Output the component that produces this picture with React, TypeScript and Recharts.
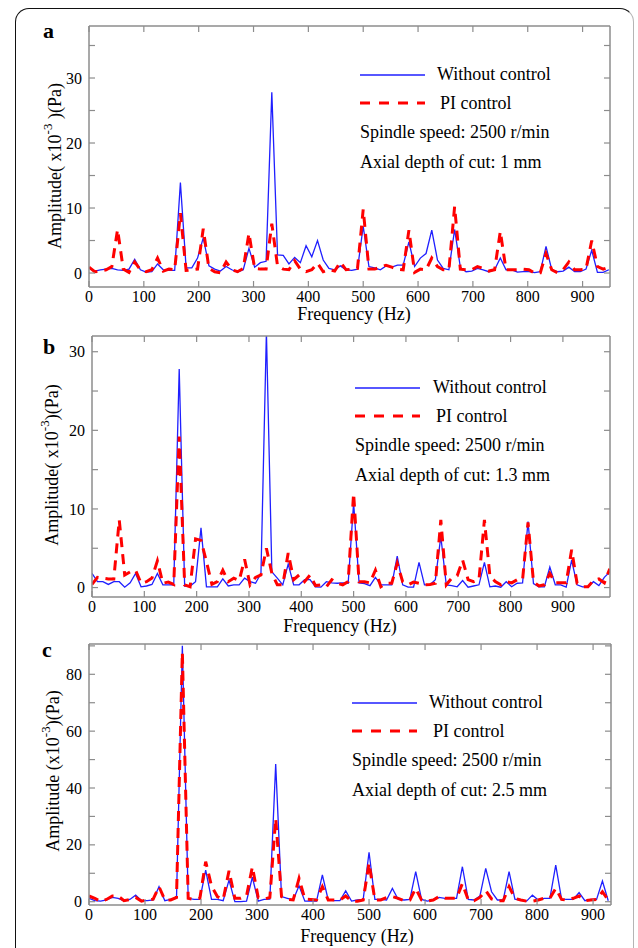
import React from "react";
import { LineChart, Line, XAxis, YAxis } from "recharts";

// frequency bins (Hz), 10.42 Hz resolution
const FREQ = [
  0, 10.42, 20.83, 31.25, 41.67, 52.08, 62.5, 72.92, 83.33, 93.75, 104.17, 114.58,
  125, 135.42, 145.83, 156.25, 166.67, 177.08, 187.5, 197.92, 208.33, 218.75, 229.17, 239.58,
  250, 260.42, 270.83, 281.25, 291.67, 302.08, 312.5, 322.92, 333.33, 343.75, 354.17, 364.58,
  375, 385.42, 395.83, 406.25, 416.67, 427.08, 437.5, 447.92, 458.33, 468.75, 479.17, 489.58,
  500, 510.42, 520.83, 531.25, 541.67, 552.08, 562.5, 572.92, 583.33, 593.75, 604.17, 614.58,
  625, 635.42, 645.83, 656.25, 666.67, 677.08, 687.5, 697.92, 708.33, 718.75, 729.17, 739.58,
  750, 760.42, 770.83, 781.25, 791.67, 802.08, 812.5, 822.92, 833.33, 843.75, 854.17, 864.58,
  875, 885.42, 895.83, 906.25, 916.67, 927.08, 937.5, 947.92, 958.33, 968.75, 979.17, 989.58,
];

// (a) 1 mm
const A_WITHOUT = [
  0.8, 0.3, 0.5, 0.6, 0.7, 0.5, 0.4, 0.6, 2.1, 0.5, 0.15, 0.2,
  1.4, 0.5, 0.4, 0.4, 13.9, 0.8, 0.8, 2.3, 5.4, 1.1, 0.6, 0.3,
  1.0, 0.5, 0.15, 0.5, 3.8, 0.9, 1.6, 1.8, 27.8, 2.8, 2.7, 1.4,
  2.4, 1.6, 4.2, 2.5, 5.0, 2.0, 0.7, 0.5, 1.1, 0.5, 0.4, 0.6,
  7.2, 1.0, 0.8, 0.5, 1.1, 0.9, 1.2, 1.2, 4.8, 1.0, 2.3, 3.0,
  6.6, 2.0, 0.7, 0.5, 6.7, 0.9, 0.2, 0.3, 0.7, 0.5, 0.2, 0.5,
  2.3, 0.5, 0.5, 0.15, 0.2, 0.2, 0.05, 0.2, 4.1, 0.5, 0.2, 0.3,
  0.9, 0.2, 0.2, 0.6, 3.5, 0.1, 0.1, 0.5,
];
const A_PI = [
  0.9, 0.2, 0.3, 0.5, 1.0, 6.7, 0.6, 0.1, 1.7, 0.5, 0.2, 0.5,
  2.3, 0.3, 0.6, 0.5, 9.2, 0.4, 0.5, 0.6, 6.8, 0.7, 0.2, 0.05,
  1.7, 0.5, 0.2, 0.7, 6.1, 0.7, 0.6, 0.6, 7.6, 1.1, 0.6, 0.5,
  1.9, 0.6, 0.2, 0.5, 1.5, 0.2, 0.5, 0.3, 1.7, 0.5, 0.6, 0.7,
  9.8, 0.6, 0.6, 0.9, 1.2, 0.9, 0.6, 0.5, 6.6, 0.1, 0.6, 0.5,
  2.3, 1.0, 0.5, 0.5, 10.2, 0.6, 0.5, 0.5, 1.0, 0.7, 0.3, 0.5,
  6.4, 0.5, 0.5, 0.5, 0.6, 0.5, 0.0, 0.05, 3.0, 0.5, 0.05, 0.5,
  1.7, 0.5, 0.5, 0.6, 5.0, 1.0, 0.6, 0.9,
];

// (b) 1.3 mm
const B_WITHOUT = [
  1.8, 0.75, 0.75, 0.4, 0.75, 0.75, 0.05, 0.6, 1.8, 0.1, 0.2, 0.4,
  1.8, 0.35, 0.35, 0.35, 27.8, 0.2, 0.2, 0.75, 7.6, 0.1, 0.1, 0.1,
  1.1, 0.2, 0.35, 0.35, 1.2, 0.75, 0.55, 1.8, 32.5, 2.0, 1.2, 0.35,
  3.0, 0.35, 0.35, 1.0, 1.0, 0.1, 0.05, 0.75, 0.6, 0.55, 0.6, 0.55,
  10.8, 0.6, 0.5, 0.25, 1.3, 0.35, 0.35, 0.35, 4.0, 0.35, 0.05, 0.05,
  3.2, 0.35, 0.35, 1.0, 6.5, 0.35, 0.25, 0.1, 0.9, 0.05, 0.2, 0.35,
  3.2, 0.1, 0.2, 0.05, 0.75, 0.1, 0.55, 0.6, 8.4, 0.5, 0.1, 0.1,
  2.6, 0.35, 0.35, 0.05, 3.5, 0.35, 0.1, 0.1, 0.75, 0.25, 1.3, 2.0,
];
const B_PI = [
  0.4, 1.3, 1.2, 1.1, 1.1, 8.6, 1.6, 2.0, 2.2, 0.55, 0.75, 1.2,
  3.4, 0.55, 0.7, 0.4, 19.2, 0.35, 0.1, 6.2, 6.0, 3.3, 0.4, 0.75,
  2.2, 0.75, 1.2, 0.9, 3.6, 0.35, 1.3, 1.6, 5.0, 1.8, 0.35, 0.35,
  4.4, 1.0, 1.6, 0.75, 1.6, 0.25, 0.35, 0.1, 1.0, 0.55, 0.35, 0.75,
  12.0, 0.75, 0.75, 0.6, 2.2, 0.1, 0.55, 0.55, 3.1, 0.75, 0.35, 0.7,
  0.55, 0.35, 0.4, 0.55, 8.6, 0.35, 1.2, 1.5, 3.5, 1.0, 0.75, 1.0,
  8.6, 1.5, 0.75, 0.35, 0.75, 0.6, 1.0, 1.0, 8.3, 0.75, 0.2, 0.35,
  1.8, 0.6, 0.6, 0.6, 4.8, 0.55, 0.1, 0.1, 0.9, 1.1, 0.6, 2.4,
];

// (c) 2.5 mm
const C_WITHOUT = [
  1.2, 0.35, 0.2, 0.6, 1.5, 1.2, 0.35, 0.8, 2.3, 0.35, 0.35, 0.6,
  5.3, 0.35, 0.8, 1.2, 90, 1.2, 0.8, 0.8, 11.1, 0.8, 0.8, 0.35,
  7.6, 0, 0, 0.2, 8.6, 0.2, 0.8, 0.9, 48.4, 1.8, 1.2, 0.6,
  5.6, 0.2, 0.2, 0.2, 9.4, 0.6, 0.35, 0.35, 3.8, 0.2, 0.6, 0.8,
  17.4, 0.8, 0.8, 0.6, 4.7, 0.8, 0.6, 0.8, 10.6, 0.8, 0.2, 0.6,
  1.5, 1.2, 1.2, 1.2, 12.3, 0.8, 0.6, 2.0, 11.7, 3.5, 0.6, 0.6,
  10.6, 0.9, 0.6, 0.2, 2.3, 0.6, 1.2, 1.2, 12.9, 0.9, 0.8, 0.8,
  3.2, 0.35, 0.8, 0.8, 7.3, 0.35,
];
const C_PI = [
  2.0, 1.2, 0.1, 0.8, 2.0, 2.0, 0.35, 0.8, 1.5, 0.2, 0.6, 0.9,
  5.3, 0.6, 0.6, 1.5, 87.7, 1.2, 0.8, 1.2, 14.1, 5.5, 1.8, 0.8,
  10.9, 1.2, 1.2, 2.0, 12.3, 1.5, 0.9, 1.5, 29.3, 1.8, 0.8, 0.6,
  8.2, 0.9, 0.8, 0.6, 5.3, 0.6, 0.6, 0.6, 2.0, 0.2, 0.2, 0.6,
  13.6, 0.6, 0.6, 1.5, 1.8, 1.2, 0.35, 0.6, 4.7, 0.6, 0.2, 0.6,
  1.8, 1.2, 1.2, 1.2, 6.4, 0.6, 0.35, 1.5, 3.9, 1.0, 0.35, 0.35,
  5.3, 1.2, 0.6, 0.2, 0.2, 0.6, 1.2, 1.2, 4.7, 0.8, 0.6, 1.2,
  2.0, 0.35, 0.6, 0.8, 3.5, 0.6,
];

const X_TICKS = [0, 100, 200, 300, 400, 500, 600, 700, 800, 900];
const Y_TICKS_AB = [0, 5, 10, 15, 20, 25, 30, 35];
const Y_LABELS_AB = [0, 10, 20, 30];
const Y_TICKS_C = [0, 10, 20, 30, 40, 50, 60, 70, 80, 90];
const Y_LABELS_C = [0, 20, 40, 60, 80];
const DEPTHS = ["1 mm", "1.3 mm", "2.5 mm"];

const FONT = '"Liberation Serif", "Times New Roman", serif';
const GRAY = "#8c8c8c";
const BLUE = "#1f1fff";
const RED = "#ff0000";
const TL = 6;

type Rect = { l: number; t: number; r: number; b: number };
interface PanelProps {
  top: number; height: number; plot: Rect; xMax: number;
  yDomain: [number, number]; yTicks: number[]; yLabels: number[];
  without: number[]; pi: number[];
}

function Panel({ top, height, plot, xMax, yDomain, yTicks, yLabels, without, pi }: PanelProps) {
  const data = without.map((v, i) => ({ f: FREQ[i], blue: v, red: pi[i] }));
  const pb = plot.b - top;
  // top/right axes are 1px wide boxes (0 would not be drawn)
  const margin = { top: plot.t - top - 1, right: 638 - plot.r - 1, bottom: height - pb - 30, left: plot.l - 40 };
  const axisLine = { stroke: GRAY, strokeWidth: 1.5 };

  const bottomTick = (p: any) => (
    <g>
      <line x1={p.x} y1={p.y} x2={p.x} y2={p.y - TL} stroke={GRAY} strokeWidth={1.2} />
      <text x={p.x} y={p.y + 15} textAnchor="middle" fontFamily={FONT} fontSize={16} fill="#000">{p.payload.value}</text>
    </g>
  );
  const topTick = (p: any) => <line x1={p.x} y1={p.y} x2={p.x} y2={p.y + TL} stroke={GRAY} strokeWidth={1.2} />;
  const leftTick = (p: any) => (
    <g>
      <line x1={p.x} y1={p.y} x2={p.x + TL} y2={p.y} stroke={GRAY} strokeWidth={1.2} />
      {yLabels.includes(p.payload.value) && (
        <text x={p.x - 7} y={p.y} dy="0.35em" textAnchor="end" fontFamily={FONT} fontSize={16} fill="#000">{p.payload.value}</text>
      )}
    </g>
  );
  const rightTick = (p: any) => <line x1={p.x} y1={p.y} x2={p.x - TL} y2={p.y} stroke={GRAY} strokeWidth={1.2} />;

  return (
    <div style={{ position: "absolute", left: 0, top, width: 638, height }}>
      <LineChart width={638} height={height} data={data} margin={margin}>
        <XAxis xAxisId="x" dataKey="f" type="number" domain={[0, xMax]} allowDataOverflow ticks={X_TICKS} interval={0}
          height={30} tickSize={0} tickMargin={0} tickLine={false} axisLine={axisLine} tick={bottomTick} />
        <XAxis xAxisId="top" dataKey="f" orientation="top" type="number" domain={[0, xMax]} allowDataOverflow ticks={X_TICKS} interval={0}
          height={1} tickSize={0} tickMargin={0} tickLine={false} axisLine={axisLine} tick={topTick} />
        <YAxis yAxisId="y" type="number" domain={yDomain} allowDataOverflow ticks={yTicks} interval={0}
          width={40} tickSize={0} tickMargin={0} tickLine={false} axisLine={axisLine} tick={leftTick} />
        <YAxis yAxisId="right" orientation="right" type="number" domain={yDomain} allowDataOverflow ticks={yTicks} interval={0}
          width={1} tickSize={0} tickMargin={0} tickLine={false} axisLine={axisLine} tick={rightTick} />
        {/* blue is plotted on the top/right pair (same domains) so those frame axes get drawn */}
        <Line xAxisId="top" yAxisId="right" type="linear" dataKey="blue" stroke={BLUE} strokeWidth={1.3} dot={false} isAnimationActive={false} />
        <Line xAxisId="x" yAxisId="y" type="linear" dataKey="red" stroke={RED} strokeWidth={3} strokeDasharray="10 7" dot={false} isAnimationActive={false} />
      </LineChart>
    </div>
  );
}

function YTitle({ x, y, pre, post }: { x: number; y: number; pre: string; post: string }) {
  return (
    <text transform={`translate(${x},${y}) rotate(-90)`} textAnchor="middle" dominantBaseline="central" fontFamily={FONT} fontSize={18} fill="#000">
      {pre}<tspan baselineShift="super" fontSize={13}>-3</tspan>{post}
    </text>
  );
}

function LegendBox({ lineX, textX, piX, y0, depth }: { lineX: number; textX: number; piX: number; y0: number; depth: string }) {
  return (
    <g fontFamily={FONT} fontSize={18} fill="#000">
      <line x1={lineX} y1={y0} x2={lineX + 65} y2={y0} stroke={BLUE} strokeWidth={1.3} />
      <text x={textX} y={y0 + 5}>Without control</text>
      <line x1={lineX} y1={y0 + 28} x2={lineX + 65} y2={y0 + 28} stroke={RED} strokeWidth={3} strokeDasharray="10 9" />
      <text x={piX} y={y0 + 34}>PI control</text>
      <text x={lineX} y={y0 + 63}>Spindle speed: 2500 r/min</text>
      <text x={lineX} y={y0 + 93}>Axial depth of cut: {depth}</text>
    </g>
  );
}

export default function App() {
  return (
    <div style={{ position: "absolute", left: 0, top: 0, width: 638, height: 948, overflow: "hidden", background: "#fff" }}>
      <div style={{ position: "absolute", left: 15, top: 8, width: 619, height: 1000, border: "1.5px solid #111", borderRightColor: "#b5b5b5", borderRadius: 14, boxSizing: "border-box" }} />
      <Panel top={0} height={330} plot={{ l: 89, t: 26, r: 610, b: 287 }} xMax={950}
        yDomain={[-2.15, 38]} yTicks={Y_TICKS_AB} yLabels={Y_LABELS_AB} without={A_WITHOUT} pi={A_PI} />
      <Panel top={320} height={310} plot={{ l: 92, t: 336, r: 610, b: 597 }} xMax={990}
        yDomain={[-1.2, 32]} yTicks={Y_TICKS_AB.slice(0, 7)} yLabels={Y_LABELS_AB} without={B_WITHOUT} pi={B_PI} />
      <Panel top={630} height={318} plot={{ l: 89, t: 644, r: 611, b: 905 }} xMax={932}
        yDomain={[-1.16, 90.66]} yTicks={Y_TICKS_C} yLabels={Y_LABELS_C} without={C_WITHOUT} pi={C_PI} />
      <svg width={638} height={948} style={{ position: "absolute", left: 0, top: 0, pointerEvents: "none" }}>
        <g fontFamily={FONT} fontSize={22} fontWeight="bold" fill="#000">
          <text x={43} y={38}>a</text>
          <text x={43} y={354}>b</text>
          <text x={42} y={657}>c</text>
        </g>
        <YTitle x={55} y={166} pre="Amplitude( x10" post=" )(Pa)" />
        <YTitle x={52} y={465} pre="Amplitude( x10" post=")(Pa)" />
        <YTitle x={53} y={771} pre="Amplitude (x10" post=")(Pa)" />
        <g fontFamily={FONT} fontSize={18} fill="#000" textAnchor="middle">
          <text x={354} y={320}>Frequency (Hz)</text>
          <text x={340} y={632}>Frequency (Hz)</text>
          <text x={357} y={942}>Frequency (Hz)</text>
        </g>
        <LegendBox lineX={360} textX={437} piX={440} y0={75} depth={DEPTHS[0]} />
        <LegendBox lineX={355} textX={433} piX={436} y0={388} depth={DEPTHS[1]} />
        <LegendBox lineX={352} textX={429} piX={433} y0={703} depth={DEPTHS[2]} />
      </svg>
    </div>
  );
}
